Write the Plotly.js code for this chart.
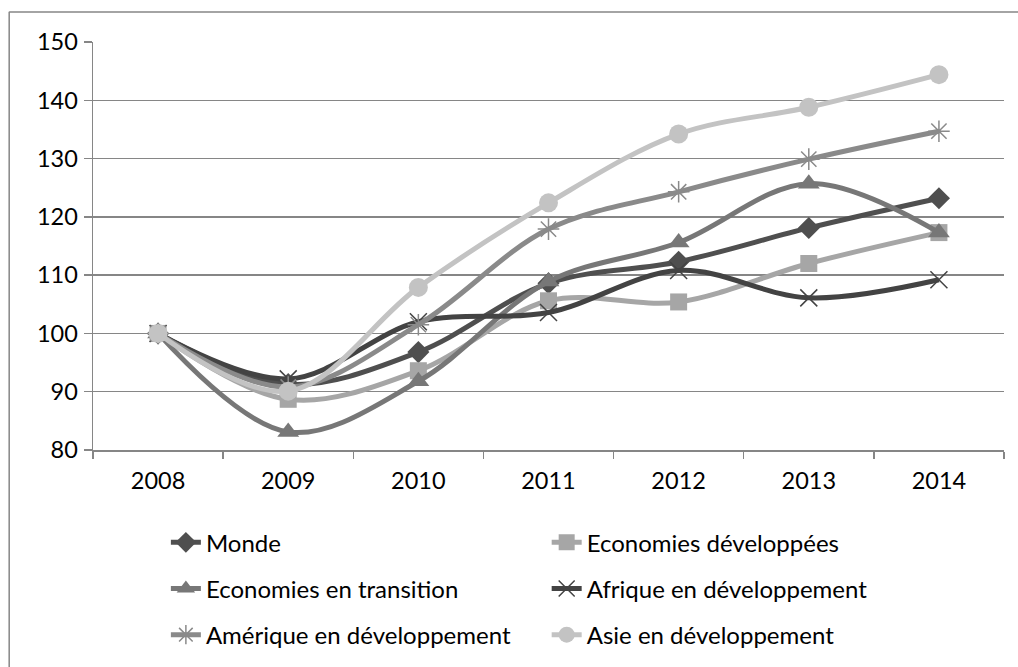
<!DOCTYPE html>
<html>
<head>
<meta charset="utf-8">
<script src="https://cdn.plot.ly/plotly-3.0.1.min.js"></script>
<style>html,body{margin:0;padding:0;background:#fff;}#chart{width:1018px;height:667px;}</style>
</head>
<body>
<div id="chart"></div>
<script>
const years = ["2008","2009","2010","2011","2012","2013","2014"];
const monde = [100, 91.3, 96.8, 108.6, 112.3, 118.1, 123.2];
const ecoDev = [100, 88.7, 93.6, 105.6, 105.4, 112.0, 117.3];
const ecoTrans = [100, 83.1, 91.8, 108.9, 115.6, 125.7, 117.3];
const afrique = [100, 92.2, 102.0, 103.6, 110.8, 106.1, 109.2];
const amerique = [100, 90.8, 101.5, 117.9, 124.3, 129.9, 134.7];
const asie = [100, 90.1, 107.9, 122.4, 134.2, 138.8, 144.4];
const names = ["Monde","Economies développées","Economies en transition","Afrique en développement","Amérique en développement","Asie en développement"];

const FONT = "Lato, 'Open Sans', sans-serif";
function tr(y, name, color, symbol, msize, leg, group, extra) {
  const marker = Object.assign({symbol: symbol, size: msize, color: color}, extra || {});
  return {x: years, y: y, name: name, type: 'scatter', mode: 'lines+markers',
    line: {color: color, width: 5, shape: 'spline', smoothing: 1},
    marker: marker, legend: leg, legendgroup: group};
}
const data = [
  tr(monde, names[0], '#4f4f4f', 'diamond', 17, 'legend', 'g1'),
  tr(ecoDev, names[1], '#a6a6a6', 'square', 17, 'legend2', 'g2'),
  tr(ecoTrans, names[2], '#777777', 'triangle-up', 19, 'legend', 'g3'),
  tr(afrique, names[3], '#434343', 'x-thin-open', 17, 'legend2', 'g4', {line: {color: '#434343', width: 1.5}}),
  tr(amerique, names[4], '#8a8a8a', 'asterisk-open', 18, 'legend', 'g5', {line: {color: '#8a8a8a', width: 1.5}}),
  tr(asie, names[5], '#c3c3c3', 'circle', 19, 'legend2', 'g6')
];
const legendCommon = {orientation: 'v', yanchor: 'top', xanchor: 'left', y: -0.172,
  font: {family: FONT, size: 24, color: '#000'}, bgcolor: 'rgba(0,0,0,0)', tracegroupgap: 12,
  itemwidth: 30, traceorder: 'grouped'};
const layout = {
  width: 1018, height: 667,
  margin: {l: 93, r: 14, t: 42, b: 217, autoexpand: false},
  paper_bgcolor: '#fff', plot_bgcolor: '#fff',
  font: {family: FONT, size: 24, color: '#000'},
  showlegend: true,
  legend: Object.assign({}, legendCommon, {x: 0.080}),
  legend2: Object.assign({}, legendCommon, {x: 0.498}),
  xaxis: {type: 'category', range: [-0.5, 6.5], showgrid: false, showline: true, linecolor: '#868686', linewidth: 1.5,
    ticks: 'outside', tickson: 'boundaries', ticklen: 7, tickcolor: '#868686', tickwidth: 1.5,
    ticklabelstandoff: 9, tickfont: {family: FONT, size: 23.5, color: '#000'}, fixedrange: true, automargin: false},
  yaxis: {range: [80, 150], dtick: 10, tick0: 80, showgrid: true, gridcolor: '#868686', gridwidth: 1.5,
    showline: true, linecolor: '#868686', linewidth: 1.5, zeroline: false,
    ticks: 'outside', ticklen: 8, tickcolor: '#868686', tickwidth: 1.5,
    ticklabelstandoff: 1, tickfont: {family: FONT, size: 23.5, color: '#000'}, fixedrange: true, automargin: false},
  shapes: [
    {type: 'line', xref: 'paper', yref: 'paper', x0: -0.092, x1: -0.092, y0: 1.074, y1: -0.55, line: {color: '#868686', width: 1.5}},
    {type: 'line', xref: 'paper', yref: 'paper', x0: -0.092, x1: 1.02, y0: 1.0735, y1: 1.0735, line: {color: '#868686', width: 1.5}}
  ]
};
Plotly.newPlot('chart', data, layout, {displayModeBar: false, staticPlot: true});
</script>
</body>
</html>
